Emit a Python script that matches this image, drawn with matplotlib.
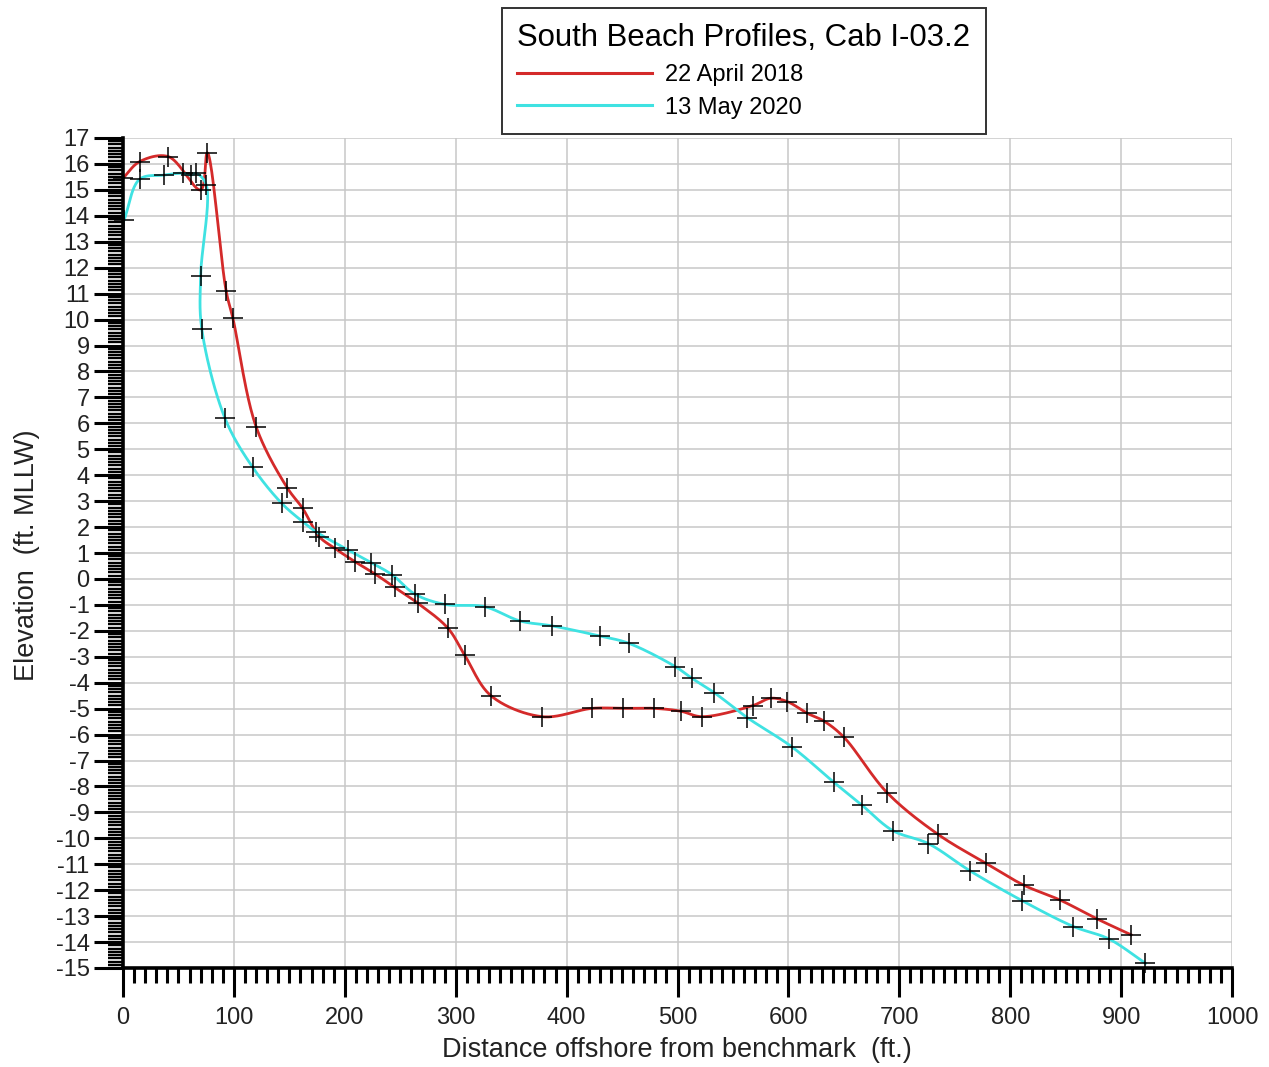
import numpy as np
import matplotlib
matplotlib.use("Agg")
import matplotlib.pyplot as plt
from matplotlib.ticker import MultipleLocator

plt.rcParams["font.family"] = ["Liberation Sans", "DejaVu Sans"]
plt.rcParams["axes.unicode_minus"] = False

# survey points (distance ft, elevation ft MLLW)
april_2018_x = [0, 15, 41, 70, 76, 93, 99, 120, 148, 162, 177, 191, 209, 227, 245,
                266, 293, 308, 332, 378, 423, 451, 479, 503, 522, 568, 584, 599,
                617, 632, 650, 689, 735, 778, 812, 845, 878, 909]
april_2018_y = [15.45, 16.09, 16.28, 15.0, 16.43, 11.1, 10.07, 5.87, 3.52, 2.72, 1.63,
                1.18, 0.67, 0.2, -0.33, -0.94, -1.9, -2.93, -4.51, -5.31, -4.99, -4.99,
                -4.99, -5.1, -5.31, -4.88, -4.6, -4.73, -5.18, -5.48, -6.1, -8.24,
                -9.85, -10.96, -11.8, -12.38, -13.1, -13.72]

may_2020_x = [1, 15, 37, 54, 61, 66, 75, 70, 71, 92, 117, 143, 162, 174, 203, 224,
              243, 263, 290, 326, 358, 387, 430, 456, 498, 513, 533, 563, 603, 641,
              666, 694, 726, 764, 811, 857, 889, 922]
may_2020_y = [13.84, 15.41, 15.57, 15.64, 15.57, 15.64, 15.2, 11.68, 9.65, 6.19, 4.3,
              2.92, 2.21, 1.82, 1.12, 0.63, 0.15, -0.58, -0.98, -1.07, -1.62, -1.81,
              -2.2, -2.48, -3.38, -3.83, -4.38, -5.35, -6.47, -7.84, -8.71, -9.7,
              -10.2, -11.26, -12.41, -13.4, -13.88, -14.82]

series_labels = ["22 April 2018", "13 May 2020"]
series_colors = ["#d42a2a", "#3fe2e2"]
legend_title = "South Beach Profiles, Cab I-03.2"


def smooth(xs, ys, yscale=23.4, n=24):
    # centripetal catmull-rom through the survey points, like the original smoothed curve
    p = np.column_stack([np.asarray(xs, float), np.asarray(ys, float) * yscale])
    p = np.vstack([2 * p[0] - p[1], p, 2 * p[-1] - p[-2]])
    out = []
    for i in range(1, len(p) - 2):
        p0, p1, p2, p3 = p[i - 1], p[i], p[i + 1], p[i + 2]
        t0 = 0.0
        t1 = t0 + max(np.linalg.norm(p1 - p0), 1e-6) ** 0.5
        t2 = t1 + max(np.linalg.norm(p2 - p1), 1e-6) ** 0.5
        t3 = t2 + max(np.linalg.norm(p3 - p2), 1e-6) ** 0.5
        t = np.linspace(t1, t2, n)[:, None]
        a1 = (t1 - t) / (t1 - t0) * p0 + (t - t0) / (t1 - t0) * p1
        a2 = (t2 - t) / (t2 - t1) * p1 + (t - t1) / (t2 - t1) * p2
        a3 = (t3 - t) / (t3 - t2) * p2 + (t - t2) / (t3 - t2) * p3
        b1 = (t2 - t) / (t2 - t0) * a1 + (t - t0) / (t2 - t0) * a2
        b2 = (t3 - t) / (t3 - t1) * a2 + (t - t1) / (t3 - t1) * a3
        c = (t2 - t) / (t2 - t1) * b1 + (t - t1) / (t2 - t1) * b2
        out.append(c)
    c = np.vstack(out)
    return c[:, 0], c[:, 1] / yscale


fig = plt.figure(figsize=(12.69, 10.67), dpi=100)
ax = fig.add_axes([123 / 1269, 1 - 968 / 1067, 1109 / 1269, 830 / 1067])

for xs, ys, col, lab in zip([april_2018_x, may_2020_x], [april_2018_y, may_2020_y],
                            series_colors, series_labels):
    sx, sy = smooth(xs, ys)
    ax.plot(sx, sy, color=col, lw=2.0, label=lab, zorder=3)
    ax.plot(xs, ys, ls="none", marker="+", ms=14, mew=1.1, color="black",
            zorder=4, clip_on=False)

ax.set_xlim(0, 1000)
ax.set_ylim(-15, 17)
ax.xaxis.set_major_locator(MultipleLocator(100))
ax.xaxis.set_minor_locator(MultipleLocator(10))
ax.yaxis.set_major_locator(MultipleLocator(1))
ax.yaxis.set_minor_locator(MultipleLocator(0.125))
ax.grid(True, which="major", color="#c8c8c8", lw=1.1, zorder=0)

for s in ["top", "right"]:
    ax.spines[s].set_visible(False)
for s in ["left", "bottom"]:
    ax.spines[s].set_linewidth(2.6)
    ax.spines[s].set_zorder(5)

ax.tick_params(axis="both", which="major", direction="out", length=21, width=2.2,
               labelsize=17, colors="black")
ax.tick_params(axis="x", which="minor", direction="out", length=11, width=2.2)
ax.tick_params(axis="y", which="minor", direction="out", length=11, width=1.7)
ax.tick_params(axis="y", which="major", pad=3)
ax.tick_params(axis="x", which="major", pad=7)
for lbl in ax.get_xticklabels() + ax.get_yticklabels():
    lbl.set_color("#222222")

fig.text(27 / 1269, 1 - 555 / 1067, "Elevation  (ft. MLLW)", rotation=90,
         ha="center", va="center", fontsize=19.5, color="#222222")
fig.text(677 / 1269, 1 - 1050 / 1067, "Distance offshore from benchmark  (ft.)",
         ha="center", va="center", fontsize=19.5, color="#222222")

leg = ax.legend(loc="upper left", bbox_to_anchor=(502 / 1269, 1 - 8 / 1067),
                bbox_transform=fig.transFigure, borderaxespad=0,
                title=legend_title, title_fontsize=22.4, fontsize=17,
                handlelength=5.7, handletextpad=0.55, labelspacing=0.45,
                borderpad=0.65, fancybox=False, framealpha=1,
                edgecolor="#333333", alignment="left")
leg.get_frame().set_linewidth(1.4)
for line in leg.get_lines():
    line.set_linewidth(2.2)

fig.savefig("out.png", dpi=100)
